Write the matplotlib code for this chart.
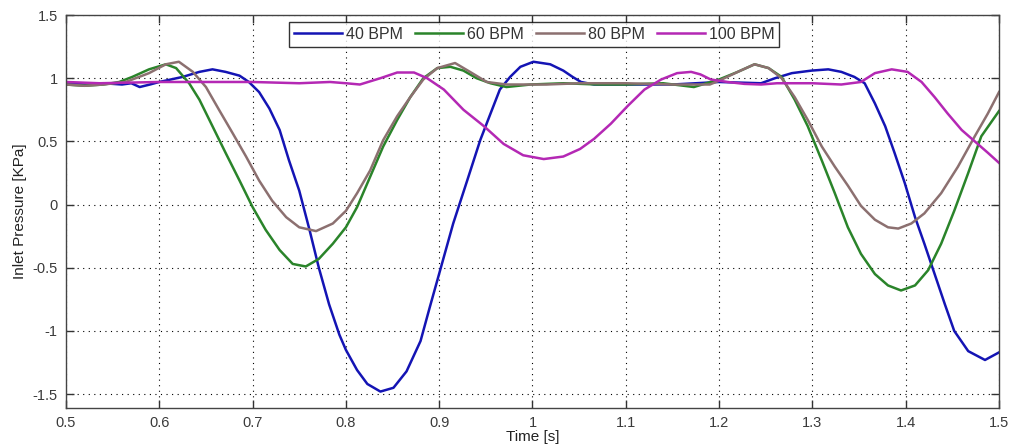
import matplotlib
matplotlib.use("Agg")
import matplotlib.pyplot as plt
from matplotlib.ticker import FixedLocator

# Inlet pressure traces for four pulse rates
t40 = [0.50, 0.52, 0.54, 0.56, 0.57, 0.579, 0.59, 0.60, 0.625, 0.643, 0.657, 0.671,
       0.686, 0.696, 0.707, 0.718, 0.729, 0.739, 0.75, 0.761, 0.771, 0.782, 0.793,
       0.80, 0.812, 0.823, 0.837, 0.851, 0.865, 0.88, 0.89, 0.901, 0.915, 0.93,
       0.944, 0.955, 0.965, 0.976, 0.987, 1.001, 1.019, 1.033, 1.043, 1.052,
       1.066, 1.10, 1.15, 1.20, 1.245, 1.26, 1.278, 1.299, 1.317, 1.331, 1.345,
       1.356, 1.367, 1.378, 1.388, 1.399, 1.41, 1.42, 1.431, 1.442, 1.452, 1.467,
       1.485, 1.50]
p40 = [0.96, 0.95, 0.96, 0.95, 0.96, 0.93, 0.95, 0.97, 1.01, 1.05, 1.07, 1.05,
       1.02, 0.97, 0.89, 0.76, 0.59, 0.35, 0.11, -0.20, -0.50, -0.79, -1.03,
       -1.15, -1.31, -1.42, -1.48, -1.45, -1.32, -1.08, -0.81, -0.52, -0.15, 0.19,
       0.51, 0.72, 0.91, 1.01, 1.09, 1.13, 1.11, 1.06, 1.01, 0.97,
       0.95, 0.95, 0.95, 0.97, 0.96, 1.00, 1.04, 1.06, 1.07, 1.05, 1.01,
       0.96, 0.80, 0.62, 0.41, 0.17, -0.10, -0.31, -0.55, -0.79, -1.00, -1.16,
       -1.23, -1.17]

t60 = [0.50, 0.52, 0.54, 0.557, 0.571, 0.589, 0.607, 0.618, 0.632, 0.643, 0.657,
       0.671, 0.686, 0.70, 0.714, 0.729, 0.743, 0.757, 0.771, 0.786, 0.80, 0.812,
       0.826, 0.84, 0.855, 0.869, 0.883, 0.898, 0.912, 0.926, 0.94, 0.955, 0.972,
       0.998, 1.033, 1.07, 1.10, 1.14, 1.173, 1.20, 1.22, 1.238, 1.253, 1.267,
       1.281, 1.295, 1.31, 1.324, 1.338, 1.352, 1.367, 1.381, 1.395, 1.41, 1.424,
       1.438, 1.452, 1.467, 1.481, 1.50]
p60 = [0.95, 0.94, 0.95, 0.97, 1.01, 1.07, 1.11, 1.08, 0.96, 0.83, 0.62,
       0.41, 0.19, -0.02, -0.20, -0.36, -0.47, -0.49, -0.43, -0.31, -0.18, -0.02,
       0.22, 0.46, 0.67, 0.85, 1.00, 1.08, 1.09, 1.06, 1.00, 0.96, 0.93,
       0.95, 0.96, 0.95, 0.95, 0.96, 0.93, 0.99, 1.05, 1.11, 1.08, 1.01,
       0.83, 0.62, 0.35, 0.09, -0.18, -0.39, -0.55, -0.64, -0.68, -0.64, -0.52,
       -0.31, -0.05, 0.25, 0.54, 0.74]

t80 = [0.50, 0.52, 0.54, 0.564, 0.589, 0.607, 0.621, 0.636, 0.65, 0.664, 0.679,
       0.693, 0.707, 0.721, 0.736, 0.75, 0.768, 0.786, 0.80, 0.812, 0.826, 0.84,
       0.855, 0.869, 0.883, 0.898, 0.917, 0.933, 0.951, 0.972, 1.015, 1.051, 1.10,
       1.15, 1.19, 1.20, 1.22, 1.238, 1.253, 1.267, 1.281, 1.295, 1.31, 1.324,
       1.338, 1.352, 1.367, 1.381, 1.392, 1.406, 1.42, 1.438, 1.456, 1.474, 1.488,
       1.50]
p80 = [0.95, 0.94, 0.95, 0.97, 1.04, 1.11, 1.13, 1.05, 0.93, 0.75, 0.56,
       0.38, 0.19, 0.03, -0.10, -0.18, -0.21, -0.15, -0.05, 0.09, 0.27, 0.51,
       0.70, 0.85, 0.99, 1.08, 1.12, 1.05, 0.97, 0.95, 0.95, 0.96, 0.96,
       0.95, 0.95, 0.98, 1.05, 1.11, 1.08, 1.00, 0.85, 0.67, 0.46, 0.30,
       0.15, -0.01, -0.12, -0.18, -0.19, -0.15, -0.07, 0.09, 0.30, 0.54, 0.72,
       0.89]

t100 = [0.50, 0.536, 0.60, 0.65, 0.70, 0.75, 0.783, 0.80, 0.815, 0.837, 0.855,
        0.873, 0.887, 0.905, 0.926, 0.948, 0.969, 0.99, 1.012, 1.033, 1.051,
        1.066, 1.084, 1.102, 1.12, 1.138, 1.155, 1.17, 1.18, 1.191, 1.209, 1.227,
        1.245, 1.262, 1.30, 1.331, 1.352, 1.367, 1.385, 1.402, 1.417, 1.431,
        1.445, 1.46, 1.474, 1.488, 1.50]
p100 = [0.97, 0.96, 0.97, 0.97, 0.97, 0.96, 0.97, 0.96, 0.95, 1.00, 1.045,
        1.045, 1.00, 0.91, 0.75, 0.62, 0.48, 0.39, 0.36, 0.38, 0.44,
        0.52, 0.64, 0.78, 0.91, 0.99, 1.04, 1.05, 1.03, 0.99, 0.97, 0.955,
        0.95, 0.96, 0.96, 0.95, 0.97, 1.04, 1.07, 1.05, 0.97, 0.85,
        0.72, 0.59, 0.50, 0.41, 0.33]

labels = ["40 BPM", "60 BPM", "80 BPM", "100 BPM"]
colors = ["#1414b4", "#2a842a", "#8c7070", "#b428b4"]

xticks = [0.5, 0.6, 0.7, 0.8, 0.9, 1.0, 1.1, 1.2, 1.3, 1.4, 1.5]
xticklabels = ["0.5", "0.6", "0.7", "0.8", "0.9", "1", "1.1", "1.2", "1.3", "1.4", "1.5"]
yticks = [-1.5, -1.0, -0.5, 0.0, 0.5, 1.0, 1.5]
yticklabels = ["-1.5", "-1", "-0.5", "0", "0.5", "1", "1.5"]

plt.rcParams["font.family"] = ["Liberation Sans", "DejaVu Sans"]

fig = plt.figure(figsize=(10.09, 4.48), dpi=100)
ax = fig.add_axes([0.0654, 0.0893, 0.9247, 0.8772])

for tt, pp, lab, col in zip([t40, t60, t80, t100], [p40, p60, p80, p100], labels, colors):
    ax.plot(tt, pp, color=col, lw=1.8, label=lab, solid_joinstyle="round")

ax.set_xlim(0.5, 1.5)
ax.set_ylim(-1.61, 1.5)
ax.xaxis.set_major_locator(FixedLocator(xticks))
ax.yaxis.set_major_locator(FixedLocator(yticks))
ax.set_xticklabels(xticklabels)
ax.set_yticklabels(yticklabels)
ax.tick_params(direction="in", top=True, right=True, length=6, width=1,
               labelsize=10.5, labelcolor="#3a3a3a", color="#333333", pad=6)
ax.grid(True, color="black", linestyle=(0, (1, 4)), linewidth=0.8)
for s in ax.spines.values():
    s.set_color("#444444")
    s.set_linewidth(1.0)

ax.set_xlabel("Time [s]", fontsize=11, color="#222222", labelpad=0)
ax.set_ylabel("Inlet Pressure [KPa]", fontsize=11, color="#222222", labelpad=4)

leg = ax.legend(loc="upper center", ncol=4, bbox_to_anchor=(0.502, 0.982),
                frameon=True, fancybox=False, fontsize=11.5, handlelength=3.0,
                handletextpad=0.25, columnspacing=0.75, borderpad=0.3,
                borderaxespad=0.0)
leg.get_frame().set_edgecolor("black")
leg.get_frame().set_linewidth(1.0)
for txt in leg.get_texts():
    txt.set_color("#333333")

fig.savefig("out.png", dpi=100, facecolor="white")
